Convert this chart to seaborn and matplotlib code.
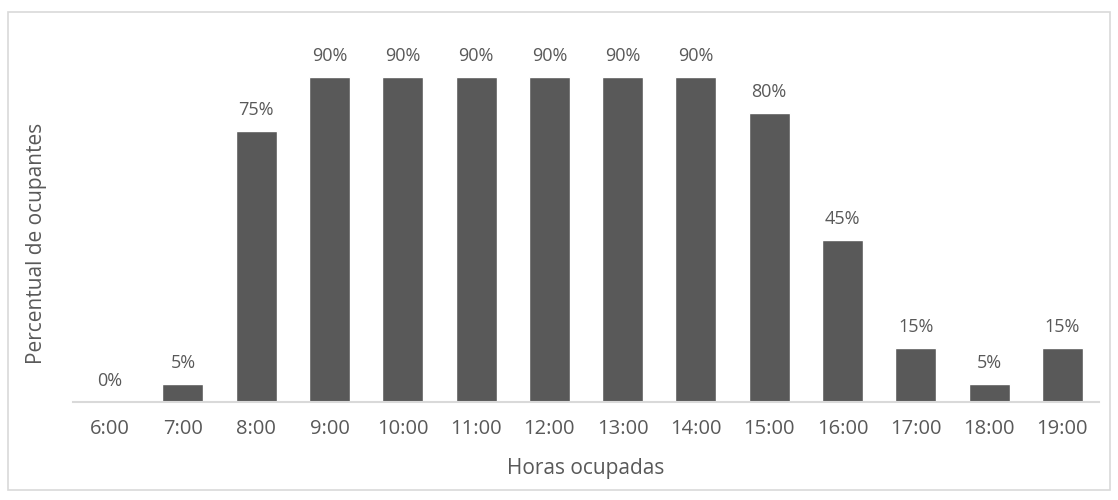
import numpy as np
import pandas as pd
import matplotlib
matplotlib.use("Agg")
import matplotlib.pyplot as plt
import seaborn as sns
from matplotlib.patches import Rectangle

# data
horas = ["6:00", "7:00", "8:00", "9:00", "10:00", "11:00", "12:00",
         "13:00", "14:00", "15:00", "16:00", "17:00", "18:00", "19:00"]
percentual = [0, 5, 75, 90, 90, 90, 90, 90, 90, 80, 45, 15, 5, 15]

df = pd.DataFrame({"Hora": horas, "Percentual": percentual})

sns.set_theme(style="white")
plt.rcParams["font.family"] = ["Open Sans", "DejaVu Sans"]

text_color = "#595959"
bar_color = "#595959"

fig = plt.figure(figsize=(11.18, 5), dpi=100)
ax = fig.add_axes([0.0653, 0.196, 0.9177, 0.722])

sns.barplot(data=df, x="Hora", y="Percentual", color=bar_color,
            saturation=1, width=0.56, ax=ax)

for i, v in enumerate(percentual):
    ax.text(i, v + 3.3, f"{v}%", ha="center", va="bottom",
            fontsize=13, color=text_color)

ax.set_ylim(0, 100)
ax.set_xlim(-0.5, len(horas) - 0.5)
ax.set_yticks([])
ax.set_xlabel("Horas ocupadas", fontsize=15, color=text_color, labelpad=14)
ax.set_ylabel("Percentual de ocupantes", fontsize=15, color=text_color)
ax.yaxis.set_label_coords(-0.025, 0.44)
ax.tick_params(axis="x", length=0, labelsize=14.5, labelcolor=text_color, pad=12)

for side in ["top", "right", "left"]:
    ax.spines[side].set_visible(False)
ax.spines["bottom"].set_color("#d9d9d9")
ax.spines["bottom"].set_linewidth(1.5)

# light border around the chart area
fig.patches.append(Rectangle((8 / 1118, 10 / 500), 1102 / 1118, 478 / 500,
                             transform=fig.transFigure, fill=False,
                             edgecolor="#d9d9d9", linewidth=1.2))

fig.savefig("out.png", dpi=100)
